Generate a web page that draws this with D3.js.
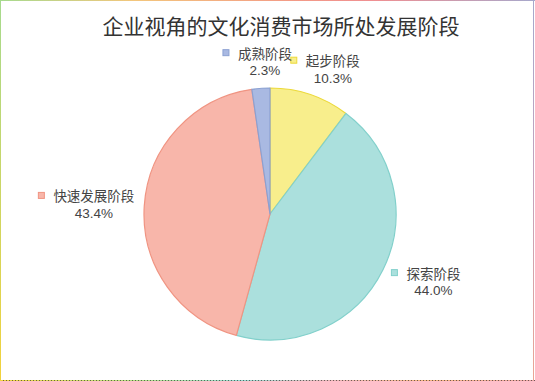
<!DOCTYPE html>
<html>
<head>
<meta charset="utf-8">
<script src="https://cdn.jsdelivr.net/npm/d3@7"></script>
<style>
  html, body { margin: 0; padding: 0; background: #fff; }
  svg { display: block; }
</style>
</head>
<body>
<svg id="chart" width="535" height="381"></svg>
<script>
// Stage names, shares (%) and slice colours, clockwise from 12 o'clock
const stages = ["起步阶段", "探索阶段", "快速发展阶段", "成熟阶段"];
const shares = [10.3, 44.0, 43.4, 2.3];
const fills = ["#f8ee8c", "#abe0dd", "#f8b6aa", "#a9b9e2"];
const strokes = ["#ecd93a", "#82d0cb", "#f09482", "#8ba1d2"];
const title = "企业视角的文化消费市场所处发展阶段";

const W = 535, H = 381;
const cx = 270, cy = 214, R = 126;
const cjk = "'Noto Sans CJK SC', 'Noto Sans', sans-serif";
const latin = "'Liberation Sans', Arial, sans-serif";

const svg = d3.select("#chart");
const defs = svg.append("defs");

// Frame: thin multicolour edge around the whole canvas
function grad(id, x2, y2, stops) {
  const g = defs.append("linearGradient").attr("id", id)
    .attr("x1", 0).attr("y1", 0).attr("x2", x2).attr("y2", y2);
  stops.forEach(([o, c]) => g.append("stop").attr("offset", o).attr("stop-color", c));
}
grad("gTop", 1, 0, [[0, "#a6da8e"], [0.25, "#f3c67c"], [0.55, "#f39a86"], [0.7, "#ef8f92"], [1, "#a6a8cc"]]);
grad("gRight", 0, 1, [[0, "#a6a8cc"], [0.5, "#c6a2bc"], [1, "#eba494"]]);
grad("gBottom", 1, 0, [[0, "#f2d23c"], [0.25, "#b2de80"], [0.45, "#92d8cf"], [0.62, "#e6b2b4"], [0.8, "#f5b27e"], [1, "#e9a2a2"]]);
grad("gLeft", 0, 1, [[0, "#a6da8e"], [1, "#f2d23c"]]);

svg.append("rect").attr("x", 0).attr("y", 0).attr("width", W).attr("height", 1).attr("fill", "url(#gTop)");
svg.append("rect").attr("x", W - 2).attr("y", 0).attr("width", 1).attr("height", H).attr("fill", "url(#gRight)");
svg.append("rect").attr("x", 0).attr("y", H - 1).attr("width", W).attr("height", 1).attr("fill", "url(#gBottom)");
svg.append("line").attr("x1", 0).attr("x2", W).attr("y1", H - 0.5).attr("y2", H - 0.5)
  .attr("stroke", "#222").attr("stroke-width", 1).attr("stroke-dasharray", "1,2").attr("opacity", 0.6);
svg.append("rect").attr("x", 0).attr("y", 0).attr("width", 1).attr("height", H).attr("fill", "url(#gLeft)");

// Title
svg.append("text")
  .attr("x", 281).attr("y", 34)
  .attr("text-anchor", "middle")
  .attr("font-family", cjk).attr("font-size", 21)
  .attr("fill", "#333")
  .text(title);

// Pie
const data = stages.map((s, i) => ({ name: s, value: shares[i], fill: fills[i], stroke: strokes[i] }));
const pie = d3.pie().value(d => d.value).sort(null);
const arcs = pie(data);
const arc = d3.arc().innerRadius(0).outerRadius(R);

const g = svg.append("g").attr("transform", `translate(${cx},${cy})`);
g.selectAll("path.slice").data(arcs).join("path")
  .attr("class", "slice")
  .attr("d", arc)
  .attr("fill", d => d.data.fill)
  .attr("stroke", d => d.data.stroke)
  .attr("stroke-width", 1.2)
  .attr("stroke-linejoin", "round");

// Labels: colour swatch + name, percentage underneath, placed outside each slice
const labelR = 148, marker = 6, gap = 9, lineGap = 18, fs = 13.5;
const labels = g.selectAll("g.lbl").data(arcs).join("g").attr("class", "lbl");

labels.each(function(d) {
  const sel = d3.select(this);
  const a = (d.startAngle + d.endAngle) / 2;
  const ax = labelR * Math.sin(a), ay = -labelR * Math.cos(a);

  const name = sel.append("text")
    .attr("font-family", cjk).attr("font-size", fs).attr("fill", "#444")
    .attr("dominant-baseline", "central")
    .text(d.data.name);
  const nameW = name.node().getComputedTextLength();
  const boxW = marker + gap + nameW, boxH = lineGap + fs;

  const bx = ax + Math.sin(a) * boxW / 2 * 0.75;
  const by = ay - Math.cos(a) * boxH / 2 * 0.3;
  const left = bx - boxW / 2;
  const nameY = by - lineGap / 2;
  const textX = left + marker + gap;

  name.attr("x", textX).attr("y", nameY);
  sel.append("rect")
    .attr("x", left).attr("y", nameY - marker / 2)
    .attr("width", marker).attr("height", marker)
    .attr("fill", d.data.fill).attr("stroke", d.data.stroke).attr("stroke-width", 1);
  sel.append("text")
    .attr("x", textX + nameW / 2).attr("y", nameY + lineGap)
    .attr("text-anchor", "middle").attr("dominant-baseline", "central")
    .attr("font-family", latin).attr("font-size", fs).attr("fill", "#444")
    .text(d3.format(".1f")(d.data.value) + "%");
});
</script>
</body>
</html>
